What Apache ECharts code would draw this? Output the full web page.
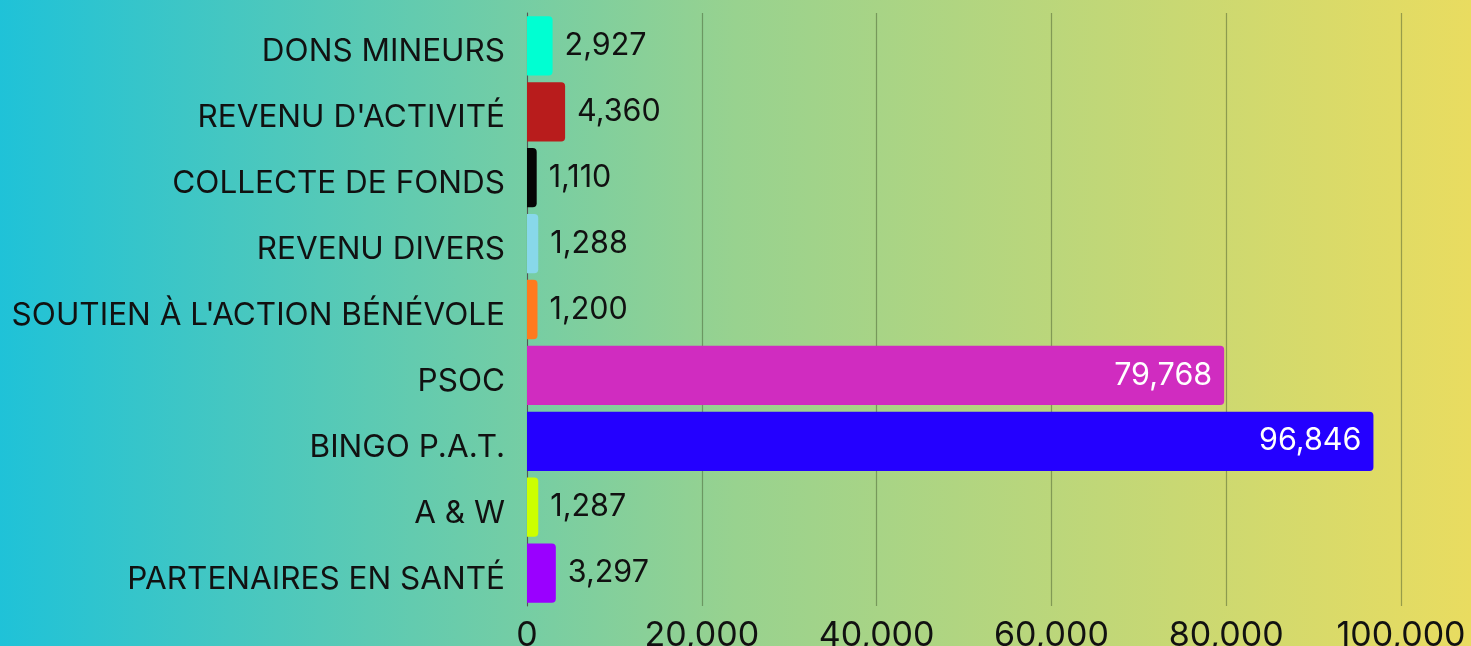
<!DOCTYPE html>
<html><head><meta charset="utf-8">
<script src="https://cdn.jsdelivr.net/npm/echarts@6/dist/echarts.min.js"></script>
<style>html,body{margin:0;padding:0;}#c{width:1471px;height:646px;}</style>
</head><body><div id="c"></div>
<script>
const categories = ["DONS MINEURS","REVENU D'ACTIVITÉ","COLLECTE DE FONDS","REVENU DIVERS","SOUTIEN À L'ACTION BÉNÉVOLE","PSOC","BINGO P.A.T.","A & W","PARTENAIRES EN SANTÉ"];
const values = [2927,4360,1110,1288,1200,79768,96846,1287,3297];
const barColors = ["#00ffd2","#b81c1c","#050505","#88d8ea","#ff7a1e","#d02cc0","#2400ff","#ccff00","#9a00ff"];
const insideLabel = [false,false,false,false,false,true,true,false,false];
const xTicks = [0,20000,40000,60000,80000,100000];

const chart = echarts.init(document.getElementById('c'));
const fmt = v => v.toLocaleString('en-US');
chart.setOption({
  backgroundColor: new echarts.graphic.LinearGradient(0,0,1,0,[{offset:0,color:'#1fc2d8'},{offset:0.5,color:'#98d28f'},{offset:1,color:'#e9dc60'}]),
  animation:false,
  grid:{left:527,right:70,top:13,bottom:40,containLabel:false,outerBoundsMode:'none'},
  xAxis:{type:'value',min:xTicks[0],max:xTicks[xTicks.length-1],interval:20000,
    axisLine:{show:false},axisTick:{show:false},
    splitLine:{lineStyle:{color:'rgba(60,80,40,0.45)',width:1.2}},
    axisLabel:{formatter:fmt,color:'#111',fontSize:34,fontFamily:'Inter',margin:13}},
  yAxis:{type:'category',data:categories,inverse:true,
    axisLine:{show:true,lineStyle:{color:'#555',width:1}},axisTick:{show:false},
    axisLabel:{color:'#111',fontSize:31.5,fontFamily:'Inter',margin:22,
      formatter:v=>'{a|'+v+'}',rich:{a:{fontSize:31.5,fontFamily:'Inter',color:'#111',padding:[12,0,0,0]}}}},
  series:[{type:'bar',barWidth:'90%',
    data:values.map((v,i)=>({value:v,itemStyle:{color:barColors[i],borderRadius:[0,4,4,0]},
      label:insideLabel[i]?{show:true,position:'insideRight',color:'#fff',distance:12}:{show:true,position:'right',color:'#111',distance:12}})),
    label:{show:true,fontSize:30.5,fontFamily:'Inter',formatter:p=>fmt(p.value)}
  }]
});
</script></body></html>
